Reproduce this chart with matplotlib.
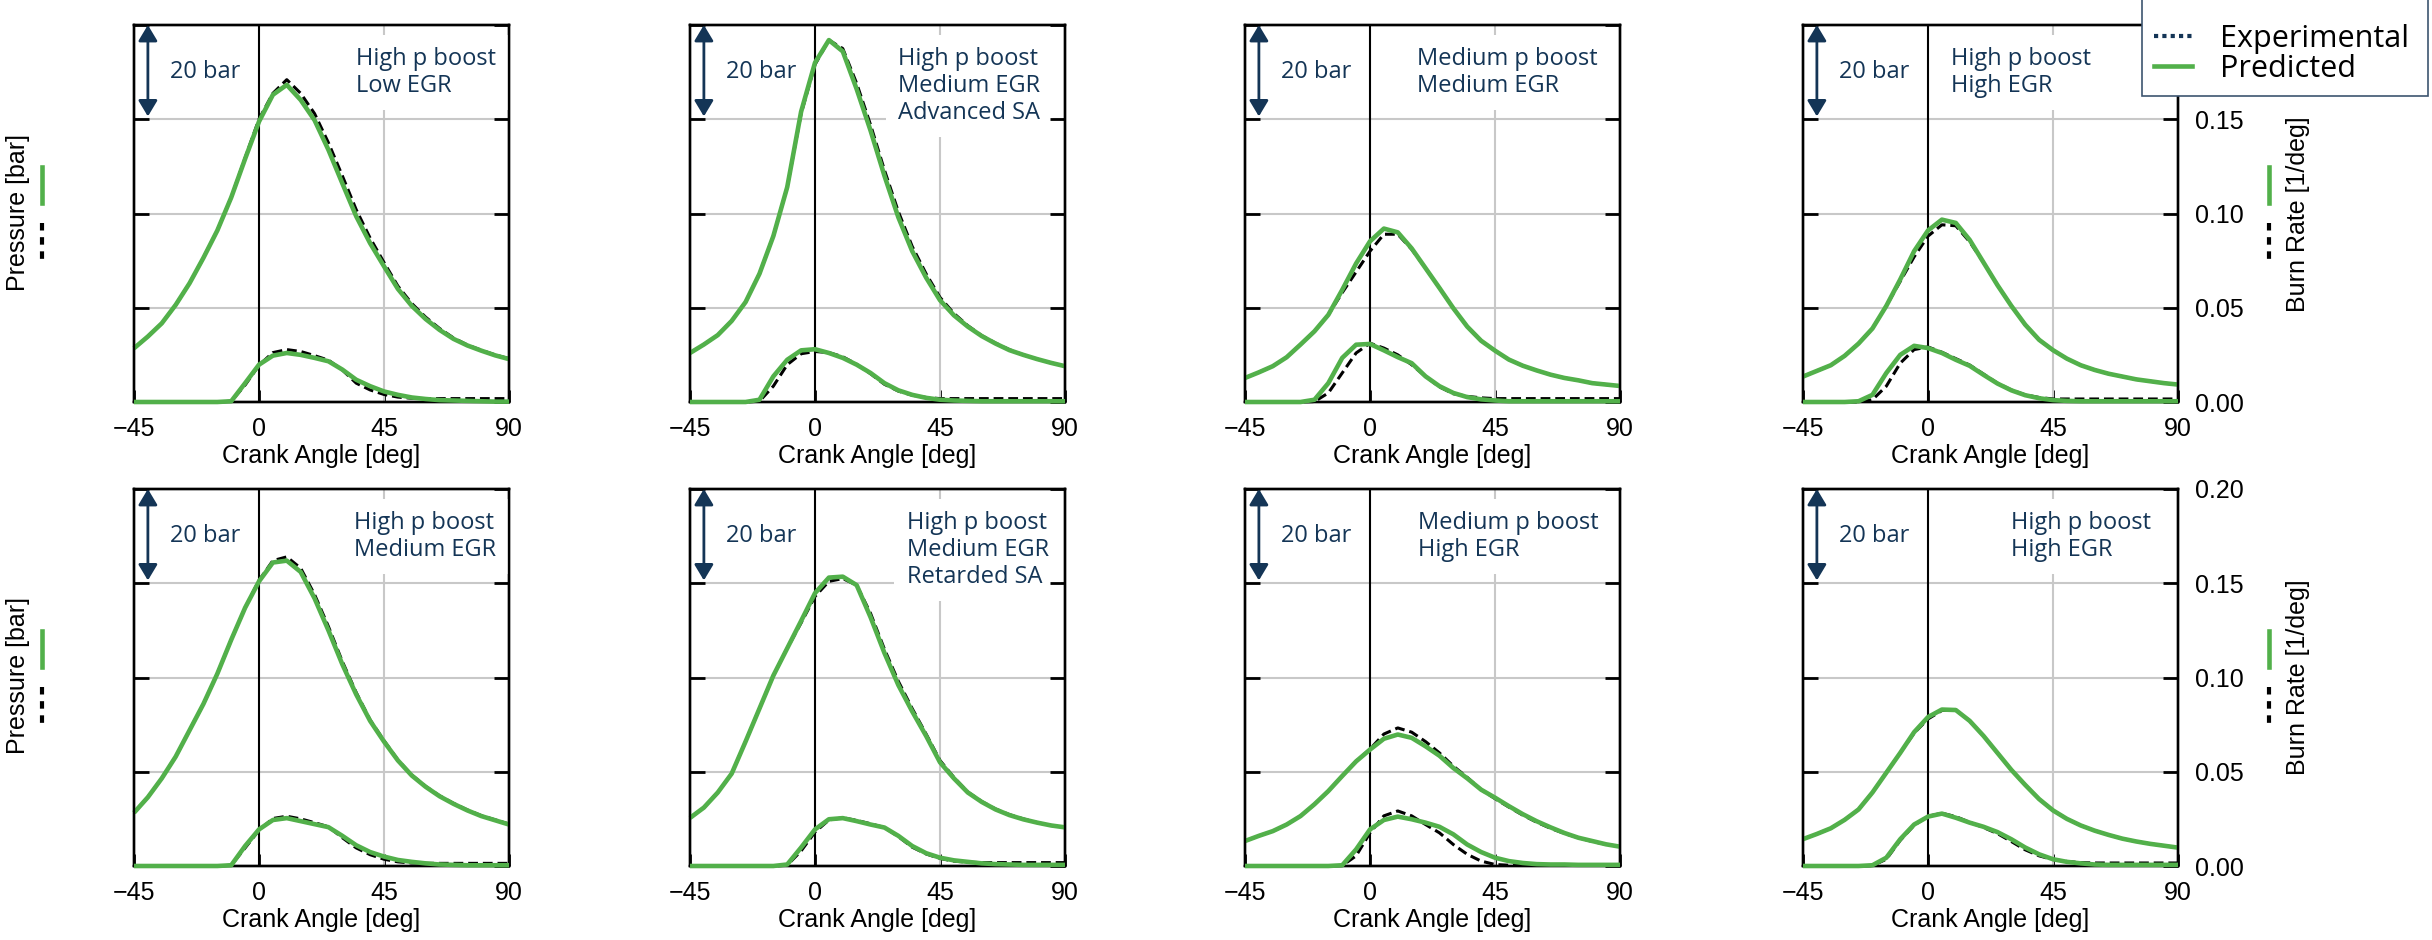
import matplotlib
matplotlib.use("Agg")
import matplotlib.pyplot as plt
from matplotlib.lines import Line2D
from matplotlib.patches import Rectangle
from matplotlib.ticker import FixedFormatter

plt.rcParams['font.family'] = ['Liberation Sans', 'DejaVu Sans']

# ---------------- data ----------------
crank_angle = [-45, -40, -35, -30, -25, -20, -15, -10, -5, 0, 5, 10, 15, 20, 25, 30,
               35, 40, 45, 50, 55, 60, 65, 70, 75, 80, 85, 90]
angle_ticks = [-45, 0, 45, 90]
burn_ticks = [0.00, 0.05, 0.10, 0.15, 0.20]
burn_tick_labels = ["0.00", "0.05", "0.10", "0.15", "0.20"]
pressure_ticks = [0, 20, 40, 60, 80]

# Row 1, panel 1: High p boost / Low EGR
p_pred_1 = [11.4, 13.9, 16.7, 20.6, 25.2, 30.6, 36.4, 43.4, 51.6, 59.5, 65.2, 67.3, 64.1, 59.8, 53.5, 46.4, 39.4, 33.7, 28.8, 24.0, 20.4, 17.6, 15.3, 13.4, 12.0, 10.9, 9.9, 9.1]
p_exp_1 = [11.4, 13.9, 16.7, 20.6, 25.2, 30.6, 36.4, 43.4, 51.8, 60.0, 65.5, 68.4, 65.5, 61.2, 55.0, 48.0, 40.8, 34.8, 29.6, 24.6, 20.9, 18.0, 15.6, 13.6, 12.1, 11.0, 10.0, 9.2]
b_pred_1 = [0, 0, 0, 0, 0, 0, 0, 0.0004, 0.0100, 0.0198, 0.0246, 0.0260, 0.0250, 0.0234, 0.0216, 0.0172, 0.0118, 0.0084, 0.0056, 0.0038, 0.0024, 0.0016, 0.0010, 0.0008, 0.0006, 0.0004, 0.0002, 0.0002]
b_exp_1 = [0, 0, 0, 0, 0, 0, 0, 0.0004, 0.0090, 0.0195, 0.0262, 0.0278, 0.0268, 0.0246, 0.0222, 0.0170, 0.0100, 0.0064, 0.0040, 0.0026, 0.0020, 0.0018, 0.0018, 0.0018, 0.0018, 0.0018, 0.0018, 0.0018]

# Row 1, panel 2: High p boost / Medium EGR / Advanced SA
p_pred_2 = [10.4, 12.2, 14.2, 17.2, 21.2, 27.2, 35.2, 45.6, 61.6, 72.0, 76.8, 74.4, 66.4, 57.6, 48.0, 39.2, 32.0, 26.4, 21.6, 18.4, 16.0, 14.0, 12.4, 11.0, 10.0, 9.1, 8.3, 7.6]
p_exp_2 = [10.4, 12.2, 14.2, 17.2, 21.2, 27.2, 35.2, 45.6, 61.2, 71.6, 76.8, 75.0, 67.6, 58.8, 49.2, 40.4, 33.0, 27.2, 22.2, 18.8, 16.2, 14.1, 12.5, 11.1, 10.0, 9.1, 8.3, 7.6]
b_pred_2 = [0, 0, 0, 0, 0, 0.0012, 0.0136, 0.0224, 0.0274, 0.0280, 0.0260, 0.0234, 0.0198, 0.0154, 0.0100, 0.0062, 0.0038, 0.0022, 0.0012, 0.0008, 0.0006, 0.0004, 0.0004, 0.0004, 0.0004, 0.0004, 0.0004, 0.0004]
b_exp_2 = [0, 0, 0, 0, 0, 0.0004, 0.0084, 0.0198, 0.0256, 0.0268, 0.0262, 0.0240, 0.0200, 0.0150, 0.0094, 0.0058, 0.0036, 0.0024, 0.0018, 0.0018, 0.0018, 0.0018, 0.0018, 0.0018, 0.0018, 0.0018, 0.0018, 0.0018]

# Row 1, panel 3: Medium p boost / Medium EGR
p_pred_3 = [5.1, 6.3, 7.6, 9.5, 12.2, 15.0, 18.5, 23.8, 29.4, 34.1, 36.8, 36.0, 32.6, 28.4, 24.2, 19.9, 16.0, 13.0, 10.9, 9.0, 7.7, 6.7, 5.8, 5.1, 4.6, 4.0, 3.7, 3.4]
p_exp_3 = [5.1, 6.3, 7.6, 9.5, 12.2, 15.0, 18.5, 23.2, 27.6, 32.0, 35.6, 35.6, 32.4, 28.4, 24.2, 19.9, 16.0, 13.0, 10.9, 9.0, 7.7, 6.7, 5.8, 5.1, 4.6, 4.0, 3.7, 3.4]
b_pred_3 = [0, 0, 0, 0, 0, 0.0012, 0.0100, 0.0234, 0.0304, 0.0308, 0.0274, 0.0238, 0.0206, 0.0136, 0.0084, 0.0048, 0.0026, 0.0014, 0.0008, 0.0004, 0.0004, 0.0004, 0.0004, 0.0004, 0.0004, 0.0004, 0.0004, 0.0004]
b_exp_3 = [0, 0, 0, 0, 0, 0.0002, 0.0048, 0.0154, 0.0260, 0.0312, 0.0286, 0.0250, 0.0198, 0.0136, 0.0080, 0.0044, 0.0030, 0.0022, 0.0018, 0.0018, 0.0018, 0.0018, 0.0018, 0.0018, 0.0018, 0.0018, 0.0018, 0.0018]

# Row 1, panel 4: High p boost / High EGR
p_pred_4 = [5.4, 6.6, 7.8, 9.8, 12.4, 15.6, 20.4, 26.0, 32.0, 36.4, 38.7, 38.0, 34.4, 29.6, 24.8, 20.4, 16.4, 13.2, 11.0, 9.2, 7.8, 6.8, 6.0, 5.4, 4.8, 4.4, 4.0, 3.7]
p_exp_4 = [5.4, 6.6, 7.8, 9.8, 12.4, 15.6, 20.4, 25.6, 30.8, 35.2, 37.6, 37.4, 34.0, 29.6, 24.8, 20.4, 16.4, 13.2, 11.0, 9.2, 7.8, 6.8, 6.0, 5.4, 4.8, 4.4, 4.0, 3.7]
b_pred_4 = [0, 0, 0, 0, 0.0004, 0.0038, 0.0154, 0.0250, 0.0298, 0.0286, 0.0260, 0.0224, 0.0192, 0.0144, 0.0098, 0.0062, 0.0036, 0.0020, 0.0010, 0.0006, 0.0004, 0.0004, 0.0004, 0.0004, 0.0004, 0.0004, 0.0004, 0.0004]
b_exp_4 = [0, 0, 0, 0, 0, 0.0012, 0.0084, 0.0206, 0.0278, 0.0292, 0.0264, 0.0230, 0.0196, 0.0148, 0.0100, 0.0064, 0.0038, 0.0024, 0.0016, 0.0016, 0.0016, 0.0016, 0.0016, 0.0016, 0.0016, 0.0016, 0.0016, 0.0016]

# Row 2, panel 5: High p boost / Medium EGR
p_pred_5 = [11.3, 14.6, 18.6, 23.2, 28.8, 34.4, 40.8, 48.0, 54.8, 60.4, 64.4, 64.8, 62.4, 56.8, 50.0, 42.8, 36.4, 30.8, 26.4, 22.4, 19.2, 16.8, 14.8, 13.2, 11.8, 10.6, 9.7, 8.8]
p_exp_5 = [11.3, 14.6, 18.6, 23.2, 28.8, 34.4, 40.8, 48.0, 54.8, 60.6, 64.8, 65.6, 63.2, 57.6, 50.8, 43.4, 36.8, 31.0, 26.6, 22.5, 19.3, 16.9, 14.9, 13.3, 11.9, 10.7, 9.8, 8.9]
b_pred_5 = [0, 0, 0, 0, 0, 0, 0, 0.0004, 0.0106, 0.0194, 0.0244, 0.0254, 0.0238, 0.0222, 0.0206, 0.0160, 0.0110, 0.0074, 0.0050, 0.0032, 0.0022, 0.0014, 0.0008, 0.0006, 0.0004, 0.0004, 0.0004, 0.0004]
b_exp_5 = [0, 0, 0, 0, 0, 0, 0, 0.0004, 0.0096, 0.0190, 0.0252, 0.0264, 0.0250, 0.0230, 0.0208, 0.0150, 0.0096, 0.0060, 0.0036, 0.0022, 0.0016, 0.0014, 0.0014, 0.0014, 0.0014, 0.0014, 0.0014, 0.0014]

# Row 2, panel 6: High p boost / Medium EGR / Retarded SA
p_pred_6 = [10.2, 12.4, 15.6, 19.6, 26.4, 33.4, 40.4, 46.2, 52.0, 57.9, 61.2, 61.4, 59.6, 52.8, 45.2, 38.4, 32.8, 27.6, 22.0, 18.6, 15.6, 13.6, 12.0, 10.8, 9.9, 9.2, 8.6, 8.2]
p_exp_6 = [10.2, 12.4, 15.6, 19.6, 26.4, 33.4, 40.4, 46.2, 51.6, 57.2, 60.4, 61.0, 59.6, 53.6, 46.0, 39.2, 33.4, 28.0, 22.4, 18.8, 15.7, 13.7, 12.1, 10.9, 10.0, 9.2, 8.6, 8.2]
b_pred_6 = [0, 0, 0, 0, 0, 0, 0, 0.0008, 0.0098, 0.0194, 0.0248, 0.0254, 0.0238, 0.0220, 0.0204, 0.0160, 0.0106, 0.0068, 0.0044, 0.0030, 0.0022, 0.0014, 0.0010, 0.0008, 0.0006, 0.0006, 0.0006, 0.0006]
b_exp_6 = [0, 0, 0, 0, 0, 0, 0, 0.0004, 0.0080, 0.0180, 0.0244, 0.0256, 0.0242, 0.0224, 0.0204, 0.0156, 0.0100, 0.0064, 0.0040, 0.0026, 0.0020, 0.0018, 0.0018, 0.0018, 0.0018, 0.0018, 0.0018, 0.0018]

# Row 2, panel 7: Medium p boost / High EGR
p_pred_7 = [5.3, 6.4, 7.4, 8.8, 10.6, 13.1, 15.9, 19.1, 22.2, 24.7, 27.0, 27.9, 27.2, 25.4, 23.4, 20.8, 18.6, 16.2, 14.5, 12.7, 11.0, 9.5, 8.2, 7.0, 6.0, 5.3, 4.6, 4.1]
p_exp_7 = [5.3, 6.4, 7.4, 8.8, 10.6, 13.1, 15.9, 19.1, 22.2, 24.8, 28.0, 29.3, 28.4, 26.4, 24.0, 21.2, 18.8, 16.2, 14.3, 12.5, 10.8, 9.3, 8.0, 6.9, 6.0, 5.2, 4.6, 4.1]
b_pred_7 = [0, 0, 0, 0, 0, 0, 0, 0.0004, 0.0088, 0.0194, 0.0244, 0.0262, 0.0248, 0.0230, 0.0208, 0.0168, 0.0114, 0.0074, 0.0044, 0.0026, 0.0016, 0.0010, 0.0008, 0.0008, 0.0006, 0.0006, 0.0006, 0.0006]
b_exp_7 = [0, 0, 0, 0, 0, 0, 0, 0.0002, 0.0054, 0.0176, 0.0266, 0.0292, 0.0266, 0.0220, 0.0176, 0.0114, 0.0062, 0.0026, 0.0008, 0.0004, 0.0004, 0.0004, 0.0004, 0.0004, 0.0004, 0.0004, 0.0004, 0.0004]

# Row 2, panel 8: High p boost / High EGR
p_pred_8 = [5.7, 6.8, 8.0, 9.8, 12.0, 15.6, 19.8, 24.0, 28.4, 31.6, 33.2, 33.1, 30.8, 27.6, 24.0, 20.4, 17.2, 14.2, 11.8, 10.0, 8.6, 7.5, 6.6, 5.8, 5.2, 4.7, 4.3, 3.9]
p_exp_8 = [5.7, 6.8, 8.0, 9.8, 12.0, 15.6, 19.8, 24.0, 28.2, 31.2, 33.0, 33.1, 30.8, 27.6, 24.0, 20.4, 17.2, 14.2, 11.8, 10.0, 8.6, 7.5, 6.6, 5.8, 5.2, 4.7, 4.3, 3.9]
b_pred_8 = [0, 0, 0, 0, 0, 0.0004, 0.0044, 0.0142, 0.0220, 0.0262, 0.0278, 0.0256, 0.0230, 0.0208, 0.0180, 0.0142, 0.0098, 0.0062, 0.0036, 0.0022, 0.0014, 0.0008, 0.0006, 0.0006, 0.0006, 0.0006, 0.0006, 0.0006]
b_exp_8 = [0, 0, 0, 0, 0, 0.0002, 0.0036, 0.0136, 0.0216, 0.0264, 0.0280, 0.0262, 0.0232, 0.0204, 0.0172, 0.0130, 0.0086, 0.0054, 0.0034, 0.0024, 0.0018, 0.0016, 0.0016, 0.0016, 0.0016, 0.0016, 0.0016, 0.0016]

case_labels = [
    ["High p boost", "Low EGR"],
    ["High p boost", "Medium EGR", "Advanced SA"],
    ["Medium p boost", "Medium EGR"],
    ["High p boost", "High EGR"],
    ["High p boost", "Medium EGR"],
    ["High p boost", "Medium EGR", "Retarded SA"],
    ["Medium p boost", "High EGR"],
    ["High p boost", "High EGR"],
]
series_labels = ["Experimental", "Predicted"]

pressure_pred = [p_pred_1, p_pred_2, p_pred_3, p_pred_4, p_pred_5, p_pred_6, p_pred_7, p_pred_8]
pressure_exp = [p_exp_1, p_exp_2, p_exp_3, p_exp_4, p_exp_5, p_exp_6, p_exp_7, p_exp_8]
burn_pred = [b_pred_1, b_pred_2, b_pred_3, b_pred_4, b_pred_5, b_pred_6, b_pred_7, b_pred_8]
burn_exp = [b_exp_1, b_exp_2, b_exp_3, b_exp_4, b_exp_5, b_exp_6, b_exp_7, b_exp_8]

# ---------------- layout / style ----------------
W, H = 2432, 940
NAVY = "#143556"
GREEN = "#52b04a"
GRIDC = "#c8c8c8"
TEXT_FONT = ["Open Sans", "DejaVu Sans"]
label_x = [34.8, 29.9, 16.9, 8.3, 34.1, 33.0, 17.3, 30.0]

col_left_px = [134, 690, 1245, 1803]
row_top_px = [25, 489]
ax_w_px, ax_h_px = 375, 377

fig = plt.figure(figsize=(W / 100, H / 100), dpi=100)

exp_style = dict(color="black", lw=2.2, linestyle=(0, (3.2, 1.6)), zorder=4, clip_on=False)
pred_style = dict(color=GREEN, lw=3.3, zorder=5, clip_on=False, solid_capstyle="butt")

for i in range(8):
    r, c = divmod(i, 4)
    left = col_left_px[c] / W
    bottom = (H - row_top_px[r] - ax_h_px) / H
    ax = fig.add_axes([left, bottom, ax_w_px / W, ax_h_px / H])
    ax.set_xlim(-45, 90)
    ax.set_ylim(0, 80)
    ax.set_xticks(angle_ticks)
    ax.set_yticks(pressure_ticks)
    ax.set_axisbelow(True)
    ax.yaxis.grid(True, color=GRIDC, lw=1.5)
    ax.axvline(45, color=GRIDC, lw=1.5, zorder=1)
    ax.axvline(0, color="black", lw=1.5, zorder=2)
    ax.tick_params(axis="y", direction="in", length=10.5, width=2.0, left=True,
                   right=False, labelleft=False)
    ax.tick_params(axis="x", direction="in", length=9, width=2.0, labelsize=18,
                   pad=11, top=False)
    ax.set_xlabel("Crank Angle [deg]", fontsize=18, labelpad=2)
    for s in ax.spines.values():
        s.set_linewidth(1.7)

    ax2 = ax.twinx()
    ax2.set_ylim(0, 0.2)
    ax2.set_yticks(burn_ticks)
    # in the top row the 0.20 label sits under the legend box
    shown = burn_tick_labels[:-1] + [""] if r == 0 else burn_tick_labels
    ax2.yaxis.set_major_formatter(FixedFormatter(shown))
    ax2.tick_params(axis="y", direction="in", length=10.5, width=2.0, labelsize=18,
                    pad=12, labelright=(c == 3))
    for s in ax2.spines.values():
        s.set_linewidth(1.7)

    ax.plot(crank_angle, pressure_exp[i], **exp_style)
    ax.plot(crank_angle, pressure_pred[i], **pred_style)
    ax2.plot(crank_angle, burn_exp[i], **exp_style)
    ax2.plot(crank_angle, burn_pred[i], **pred_style)

    # 20 bar scale arrow
    ax.annotate("", xy=(-40, 80), xytext=(-40, 60.6),
                arrowprops=dict(arrowstyle="<|-|>,head_length=0.6,head_width=0.36",
                                color=NAVY, lw=2.0, mutation_scale=16,
                                shrinkA=0, shrinkB=0), zorder=6)
    ax.text(-32, 70, "20 bar", fontsize=17, family=TEXT_FONT, color=NAVY,
            ha="left", va="center", zorder=6)
    ax.text(label_x[i], 75.3, "\n".join(case_labels[i]), fontsize=17,
            family=TEXT_FONT, color=NAVY, ha="left", va="top", linespacing=1.15,
            zorder=3, bbox=dict(fc="white", ec="none", pad=9))

# side labels with line keys
for r, off in enumerate([0, 463.5]):
    fig.text(18 / W, 1 - (212.5 + off) / H, "Pressure [bar]", rotation=90, ha="center",
             va="center", fontsize=18)
    fig.text(2298 / W, 1 - (214 + off) / H, "Burn Rate [1/deg]", rotation=90,
             ha="center", va="center", fontsize=18)
    for xk in (42, 2269):
        fig.add_artist(Line2D([xk / W, xk / W], [1 - (167 + off) / H, 1 - (203 + off) / H],
                              transform=fig.transFigure, color=GREEN, lw=3.3))
        fig.add_artist(Line2D([xk / W, xk / W], [1 - (223 + off) / H, 1 - (260 + off) / H],
                              transform=fig.transFigure, color="black", lw=3.0,
                              linestyle=(0, (1.8, 1.6))))

# legend: box runs off the top edge of the figure
frame = Rectangle((2142 / W, 1 - 96 / H), (2428 - 2142) / W, 110 / H,
                  transform=fig.transFigure, fc="white", ec="#3d5570", lw=1.2,
                  zorder=4)
fig.add_artist(frame)
handles = [Line2D([], [], color=NAVY, lw=3.0, linestyle=(0, (1, 1))),
           Line2D([], [], color=GREEN, lw=3.3)]
leg = fig.legend(handles, series_labels, loc="lower left",
                 bbox_to_anchor=(2142 / W, 1 - 96 / H), borderaxespad=0,
                 frameon=False, prop=dict(family=TEXT_FONT, size=22),
                 handlelength=1.25, handletextpad=0.9, labelspacing=0.0, borderpad=0.4)
leg.set_zorder(6)

fig.savefig("out.png", dpi=100)
